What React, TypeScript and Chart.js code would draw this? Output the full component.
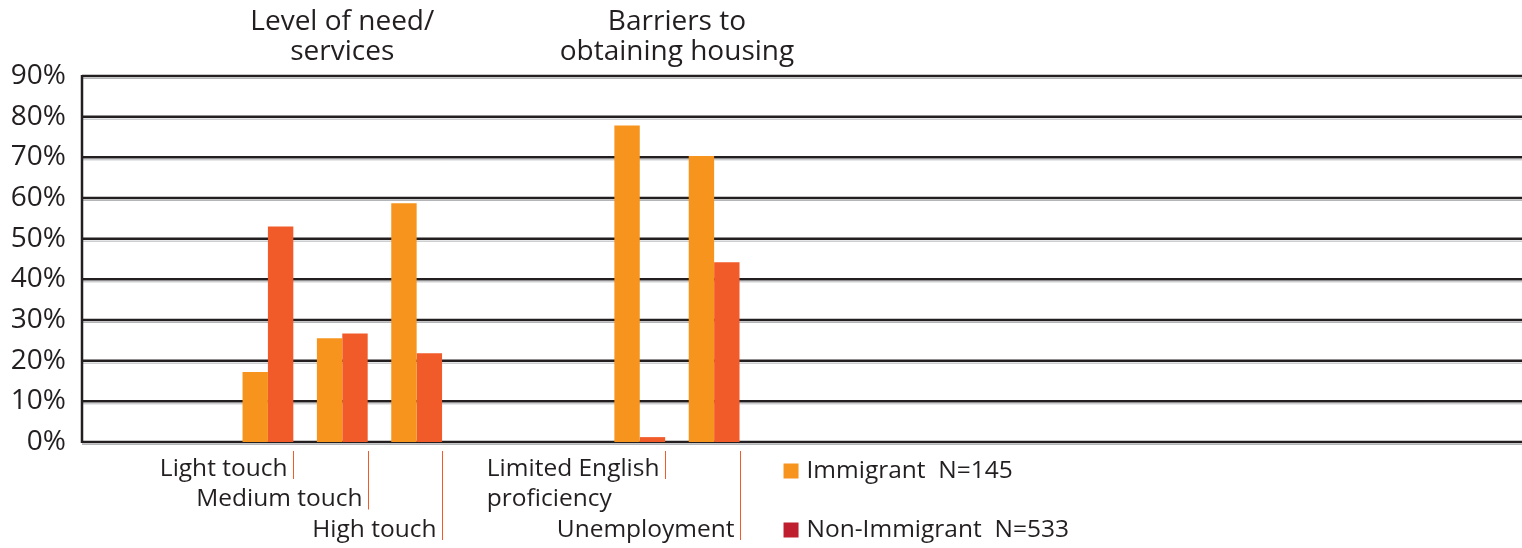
import React, { useEffect, useRef } from "react";
import { Chart, registerables } from "chart.js";

Chart.register(...registerables);

// ---- data ----
const categories: string[][] = [
  ["Light touch"],
  ["Medium touch"],
  ["High touch"],
  ["Limited English", "proficiency"],
  ["Unemployment"],
];
const immigrant = [17.2, 25.5, 58.7, 77.8, 70.3];
const nonImmigrant = [53.0, 26.7, 21.8, 1.2, 44.2];
const seriesNames = ["Immigrant  N=145", "Non-Immigrant  N=533"];
const yTickValues = [0, 10, 20, 30, 40, 50, 60, 70, 80, 90];
const sectionTitles: string[][] = [
  ["Level of need/", "services"],
  ["Barriers to", "obtaining housing"],
];
const sectionMembers = [[0, 1, 2], [3, 4]];

// ---- layout (not data) ----
const slotLayout = [null, null, 0, 1, 2, null, null, 3, 4, null, null, null, null, null, null, null, null, null, null];
const labelLevels = [0, 1, 2, 0, 2];
const W = 1522;
const H = 548;
const FONT = '"Open Sans", "Noto Sans", sans-serif';
const TEXT = "#231f20";
const ORANGE = "#f7941d";
const RED_ORANGE = "#f15a29";
const LEGEND_RED = "#be1e2d";

export default function App() {
  const ref = useRef<HTMLCanvasElement>(null);

  useEffect(() => {
    document.body.style.margin = "0";
    document.body.style.overflow = "hidden";
    const canvas = ref.current!;
    const slotLabels = slotLayout.map((s) => (s === null ? "" : categories[s].join(" ")));
    const d1 = slotLayout.map((s) => (s === null ? null : immigrant[s]));
    const d2 = slotLayout.map((s) => (s === null ? null : nonImmigrant[s]));
    const slotOf = (ci: number) => slotLayout.indexOf(ci);

    const decor = {
      id: "decor",
      beforeDatasetsDraw(chart: any) {
        const { ctx, chartArea, scales } = chart;
        const y = scales.y;
        ctx.save();
        yTickValues.forEach((v) => {
          const py = y.getPixelForValue(v);
          ctx.strokeStyle = "#b3b5b8";
          ctx.lineWidth = 1;
          ctx.beginPath();
          ctx.moveTo(chartArea.left, py + 2.5);
          ctx.lineTo(W, py + 2.5);
          ctx.stroke();
          ctx.strokeStyle = TEXT;
          ctx.lineWidth = 2.5;
          ctx.beginPath();
          ctx.moveTo(chartArea.left, py);
          ctx.lineTo(W, py);
          ctx.stroke();
        });
        ctx.strokeStyle = TEXT;
        ctx.lineWidth = 2.5;
        ctx.beginPath();
        ctx.moveTo(chartArea.left, y.getPixelForValue(90) - 1);
        ctx.lineTo(chartArea.left, y.getPixelForValue(0) + 1);
        ctx.stroke();
        ctx.restore();
      },
      afterDraw(chart: any) {
        const { ctx, chartArea } = chart;
        const m0 = chart.getDatasetMeta(0);
        const m1 = chart.getDatasetMeta(1);
        const centers: number[] = [];
        const rightEdges: number[] = [];
        categories.forEach((_, ci) => {
          const s = slotOf(ci);
          const b0 = m0.data[s] as any;
          const b1 = m1.data[s] as any;
          centers.push((b0.x - b0.width / 2 + b1.x + b1.width / 2) / 2);
          rightEdges.push(b1.x + b1.width / 2);
        });
        const base = chartArea.bottom;
        const levelY = [base + 27, base + 57.5, base + 88];
        ctx.save();
        // category labels with leader lines
        ctx.font = `24.5px ${FONT}`;
        ctx.textBaseline = "middle";
        categories.forEach((lines, ci) => {
          const lx = Math.round(rightEdges[ci]) + 0.5;
          const lvl = labelLevels[ci];
          ctx.strokeStyle = RED_ORANGE;
          ctx.lineWidth = 1;
          ctx.beginPath();
          ctx.moveTo(lx, base + 9);
          ctx.lineTo(lx, levelY[lvl] + 10);
          ctx.stroke();
          ctx.fillStyle = TEXT;
          const leftX = lx - 6 - ctx.measureText(lines[0]).width;
          ctx.textAlign = "left";
          lines.forEach((t, li) => {
            ctx.fillText(t, leftX, levelY[lvl + li] ?? levelY[lvl] + 30 * li);
          });
        });
        // section titles
        ctx.font = `28px ${FONT}`;
        ctx.textAlign = "center";
        ctx.fillStyle = TEXT;
        sectionTitles.forEach((lines, si) => {
          const mem = sectionMembers[si];
          const cx = mem.reduce((a, i) => a + centers[i], 0) / mem.length;
          lines.forEach((t, li) => ctx.fillText(t, cx, 22 + li * 30));
        });
        // legend
        const legX = rightEdges[4] + 44;
        const legY = [base + 29, base + 88];
        const legColors = [ORANGE, LEGEND_RED];
        ctx.font = `24.5px ${FONT}`;
        ctx.textAlign = "left";
        seriesNames.forEach((n, i) => {
          ctx.fillStyle = legColors[i];
          ctx.fillRect(legX, legY[i] - 7.5, 15, 15);
          ctx.fillStyle = TEXT;
          ctx.fillText(n, legX + 23, legY[i]);
        });
        ctx.restore();
      },
    };

    const chart = new Chart(canvas, {
      type: "bar",
      data: {
        labels: slotLabels,
        datasets: [
          { label: seriesNames[0], data: d1, backgroundColor: ORANGE, borderWidth: 0 },
          { label: seriesNames[1], data: d2, backgroundColor: RED_ORANGE, borderWidth: 0 },
        ],
      },
      options: {
        responsive: false,
        animation: false,
        devicePixelRatio: 1,
        layout: { padding: { top: 76, bottom: 106, left: 0, right: 27 } },
        datasets: { bar: { categoryPercentage: 0.683, barPercentage: 1 } },
        plugins: { legend: { display: false }, tooltip: { enabled: false } },
        scales: {
          x: {
            grid: { display: false, drawTicks: false },
            border: { display: false },
            ticks: { display: false },
            afterFit: (s: any) => {
              s.height = 0;
            },
          },
          y: {
            min: 0,
            max: 90,
            afterBuildTicks: (s: any) => {
              s.ticks = yTickValues.map((v) => ({ value: v }));
            },
            grid: { display: false, drawTicks: false },
            border: { display: false },
            ticks: {
              padding: 16,
              color: TEXT,
              font: { family: FONT, size: 28 },
              callback: (v: any) => `${v}%`,
            },
            afterFit: (s: any) => {
              s.width = 82;
            },
          },
        },
      },
      plugins: [decor],
    } as any);
    return () => chart.destroy();
  }, []);

  return <canvas ref={ref} width={W} height={H} style={{ display: "block", width: W, height: H }} />;
}
